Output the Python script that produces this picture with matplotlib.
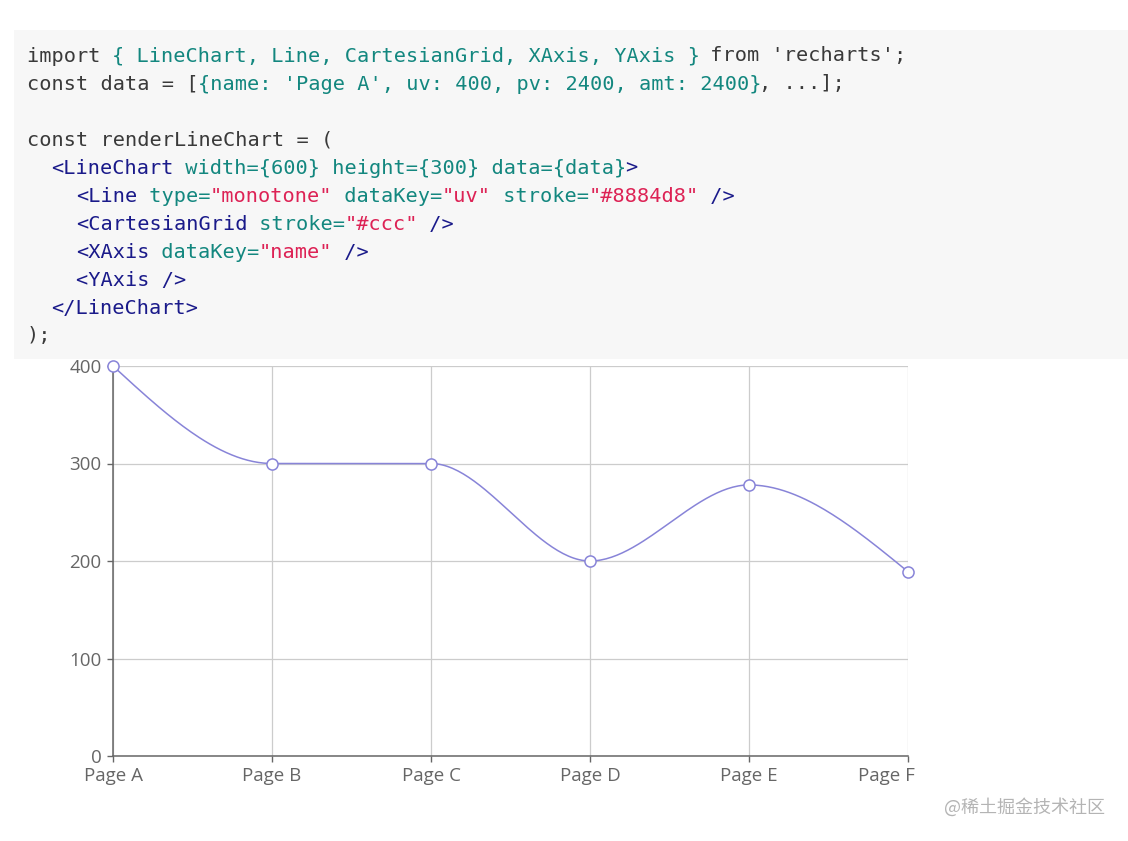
import numpy as np
import matplotlib
matplotlib.use("Agg")
import matplotlib.pyplot as plt
import matplotlib.transforms as mtransforms
from matplotlib.patches import Rectangle

# ---- data ----
categories = ["Page A", "Page B", "Page C", "Page D", "Page E", "Page F"]
uv = [400, 300, 300, 200, 278, 189]
y_ticks = [0, 100, 200, 300, 400]

# ---- code snippet (segments: text, colour-key) ----
code_lines = [
    [("import ", "t"), ("{ LineChart, Line, CartesianGrid, XAxis, YAxis }", "a"), (" from 'recharts';", "t")],
    [("const data = [", "t"), ("{name: 'Page A', uv: 400, pv: 2400, amt: 2400}", "a"), (", ...];", "t")],
    [],
    [("const renderLineChart = (", "t")],
    [("  ", "t"), ("<LineChart", "g"), (" width={600} height={300} data={data}", "a"), (">", "g")],
    [("    ", "t"), ("<Line", "g"), (" type=", "a"), ('"monotone"', "s"), (" dataKey=", "a"), ('"uv"', "s"),
     (" stroke=", "a"), ('"#8884d8"', "s"), (" />", "g")],
    [("    ", "t"), ("<CartesianGrid", "g"), (" stroke=", "a"), ('"#ccc"', "s"), (" />", "g")],
    [("    ", "t"), ("<XAxis", "g"), (" dataKey=", "a"), ('"name"', "s"), (" />", "g")],
    [("    ", "t"), ("<YAxis />", "g")],
    [("  ", "t"), ("</LineChart>", "g")],
    [(");", "t")],
]
code_colors = {"t": "#3a3a3a", "a": "#13877f", "g": "#1a1a8a", "s": "#dd2255"}

W, H = 1128, 841
fig = plt.figure(figsize=(W / 100, H / 100), dpi=100)
fig.patch.set_facecolor("white")

def fx(px):
    return px / W

def fy(py):
    return 1 - py / H

# code block background
fig.patches.append(Rectangle((fx(14), fy(359)), fx(1128) - fx(14), fy(30) - fy(359),
                             transform=fig.transFigure, facecolor="#f7f7f7",
                             edgecolor="none", zorder=0))

charw = 12.2
x0 = 27
y0 = 56
lh = 28
for i, segs in enumerate(code_lines):
    col = 0
    for txt, key in segs:
        fig.text(fx(x0 + col * charw), fy(y0 + i * lh), txt, family="DejaVu Sans Mono",
                 fontsize=14.6, color=code_colors[key], ha="left", va="center")
        col += len(txt)

# ---- chart ----
left, right, top, bottom = 113, 908, 366, 756
ax = fig.add_axes([fx(left), fy(bottom), fx(right) - fx(left), fy(top) - fy(bottom)])
ax.set_facecolor("none")

xs = np.arange(len(categories), dtype=float)
ys = np.array(uv, dtype=float)

# d3 curveMonotoneX
def monotone_path(x, y, n=60):
    m = len(x)
    t = np.zeros(m)
    for i in range(1, m - 1):
        h0 = x[i] - x[i - 1]
        h1 = x[i + 1] - x[i]
        s0 = (y[i] - y[i - 1]) / h0
        s1 = (y[i + 1] - y[i]) / h1
        p = (s0 * h1 + s1 * h0) / (h0 + h1)
        t[i] = (np.sign(s0) + np.sign(s1)) * min(abs(s0), abs(s1), 0.5 * abs(p))
    h = x[1] - x[0]
    t[0] = (3 * (y[1] - y[0]) / h - t[1]) / 2
    h = x[-1] - x[-2]
    t[-1] = (3 * (y[-1] - y[-2]) / h - t[-2]) / 2
    px, py = [], []
    u = np.linspace(0, 1, n)
    for i in range(m - 1):
        dx = (x[i + 1] - x[i]) / 3
        P0 = (x[i], y[i])
        P1 = (x[i] + dx, y[i] + dx * t[i])
        P2 = (x[i + 1] - dx, y[i + 1] - dx * t[i + 1])
        P3 = (x[i + 1], y[i + 1])
        bx = (1 - u) ** 3 * P0[0] + 3 * (1 - u) ** 2 * u * P1[0] + 3 * (1 - u) * u ** 2 * P2[0] + u ** 3 * P3[0]
        by = (1 - u) ** 3 * P0[1] + 3 * (1 - u) ** 2 * u * P1[1] + 3 * (1 - u) * u ** 2 * P2[1] + u ** 3 * P3[1]
        px.extend(bx)
        py.extend(by)
    return np.array(px), np.array(py)

cx, cy = monotone_path(xs, ys)
ax.plot(cx, cy, color="#8884d8", lw=1.1, clip_on=False, zorder=3)
ax.plot(xs, ys, linestyle="none", marker="o", markersize=8, markerfacecolor="white",
        markeredgecolor="#8884d8", markeredgewidth=1.1, clip_on=False, zorder=4)

ax.set_xlim(0, len(categories) - 1)
ax.set_ylim(0, 400)
ax.set_xticks(xs)
ax.set_xticklabels(categories)
ax.set_yticks(y_ticks)
ax.set_yticklabels([str(v) for v in y_ticks])
ax.grid(True, color="#cccccc", lw=0.9, zorder=0)
ax.set_axisbelow(True)
for s in ["top", "right"]:
    ax.spines[s].set_visible(False)
for s in ["left", "bottom"]:
    ax.spines[s].set_color("#666666")
    ax.spines[s].set_linewidth(1.1)
ax.tick_params(axis="both", direction="out", length=4.3, width=1.0, color="#666666",
               labelcolor="#666666", labelsize=13.5)
ax.tick_params(axis="x", pad=3.5)
ax.tick_params(axis="y", pad=4)
for lab in ax.get_xticklabels() + ax.get_yticklabels():
    lab.set_family("Open Sans")

# last x label kept inside the chart area (right-aligned near the end tick)
last = ax.get_xticklabels()[-1]
last.set_horizontalalignment("right")
last.set_transform(last.get_transform() + mtransforms.ScaledTranslation(7 / 100, 0, fig.dpi_scale_trans))

# watermark
fig.text(fx(1105), fy(807), "@稀土掘金技术社区", family=["Noto Sans CJK SC", "DejaVu Sans"],
         fontsize=13, color="#b4b4b4", ha="right", va="center")

fig.savefig("out.png", dpi=100, facecolor="white")
